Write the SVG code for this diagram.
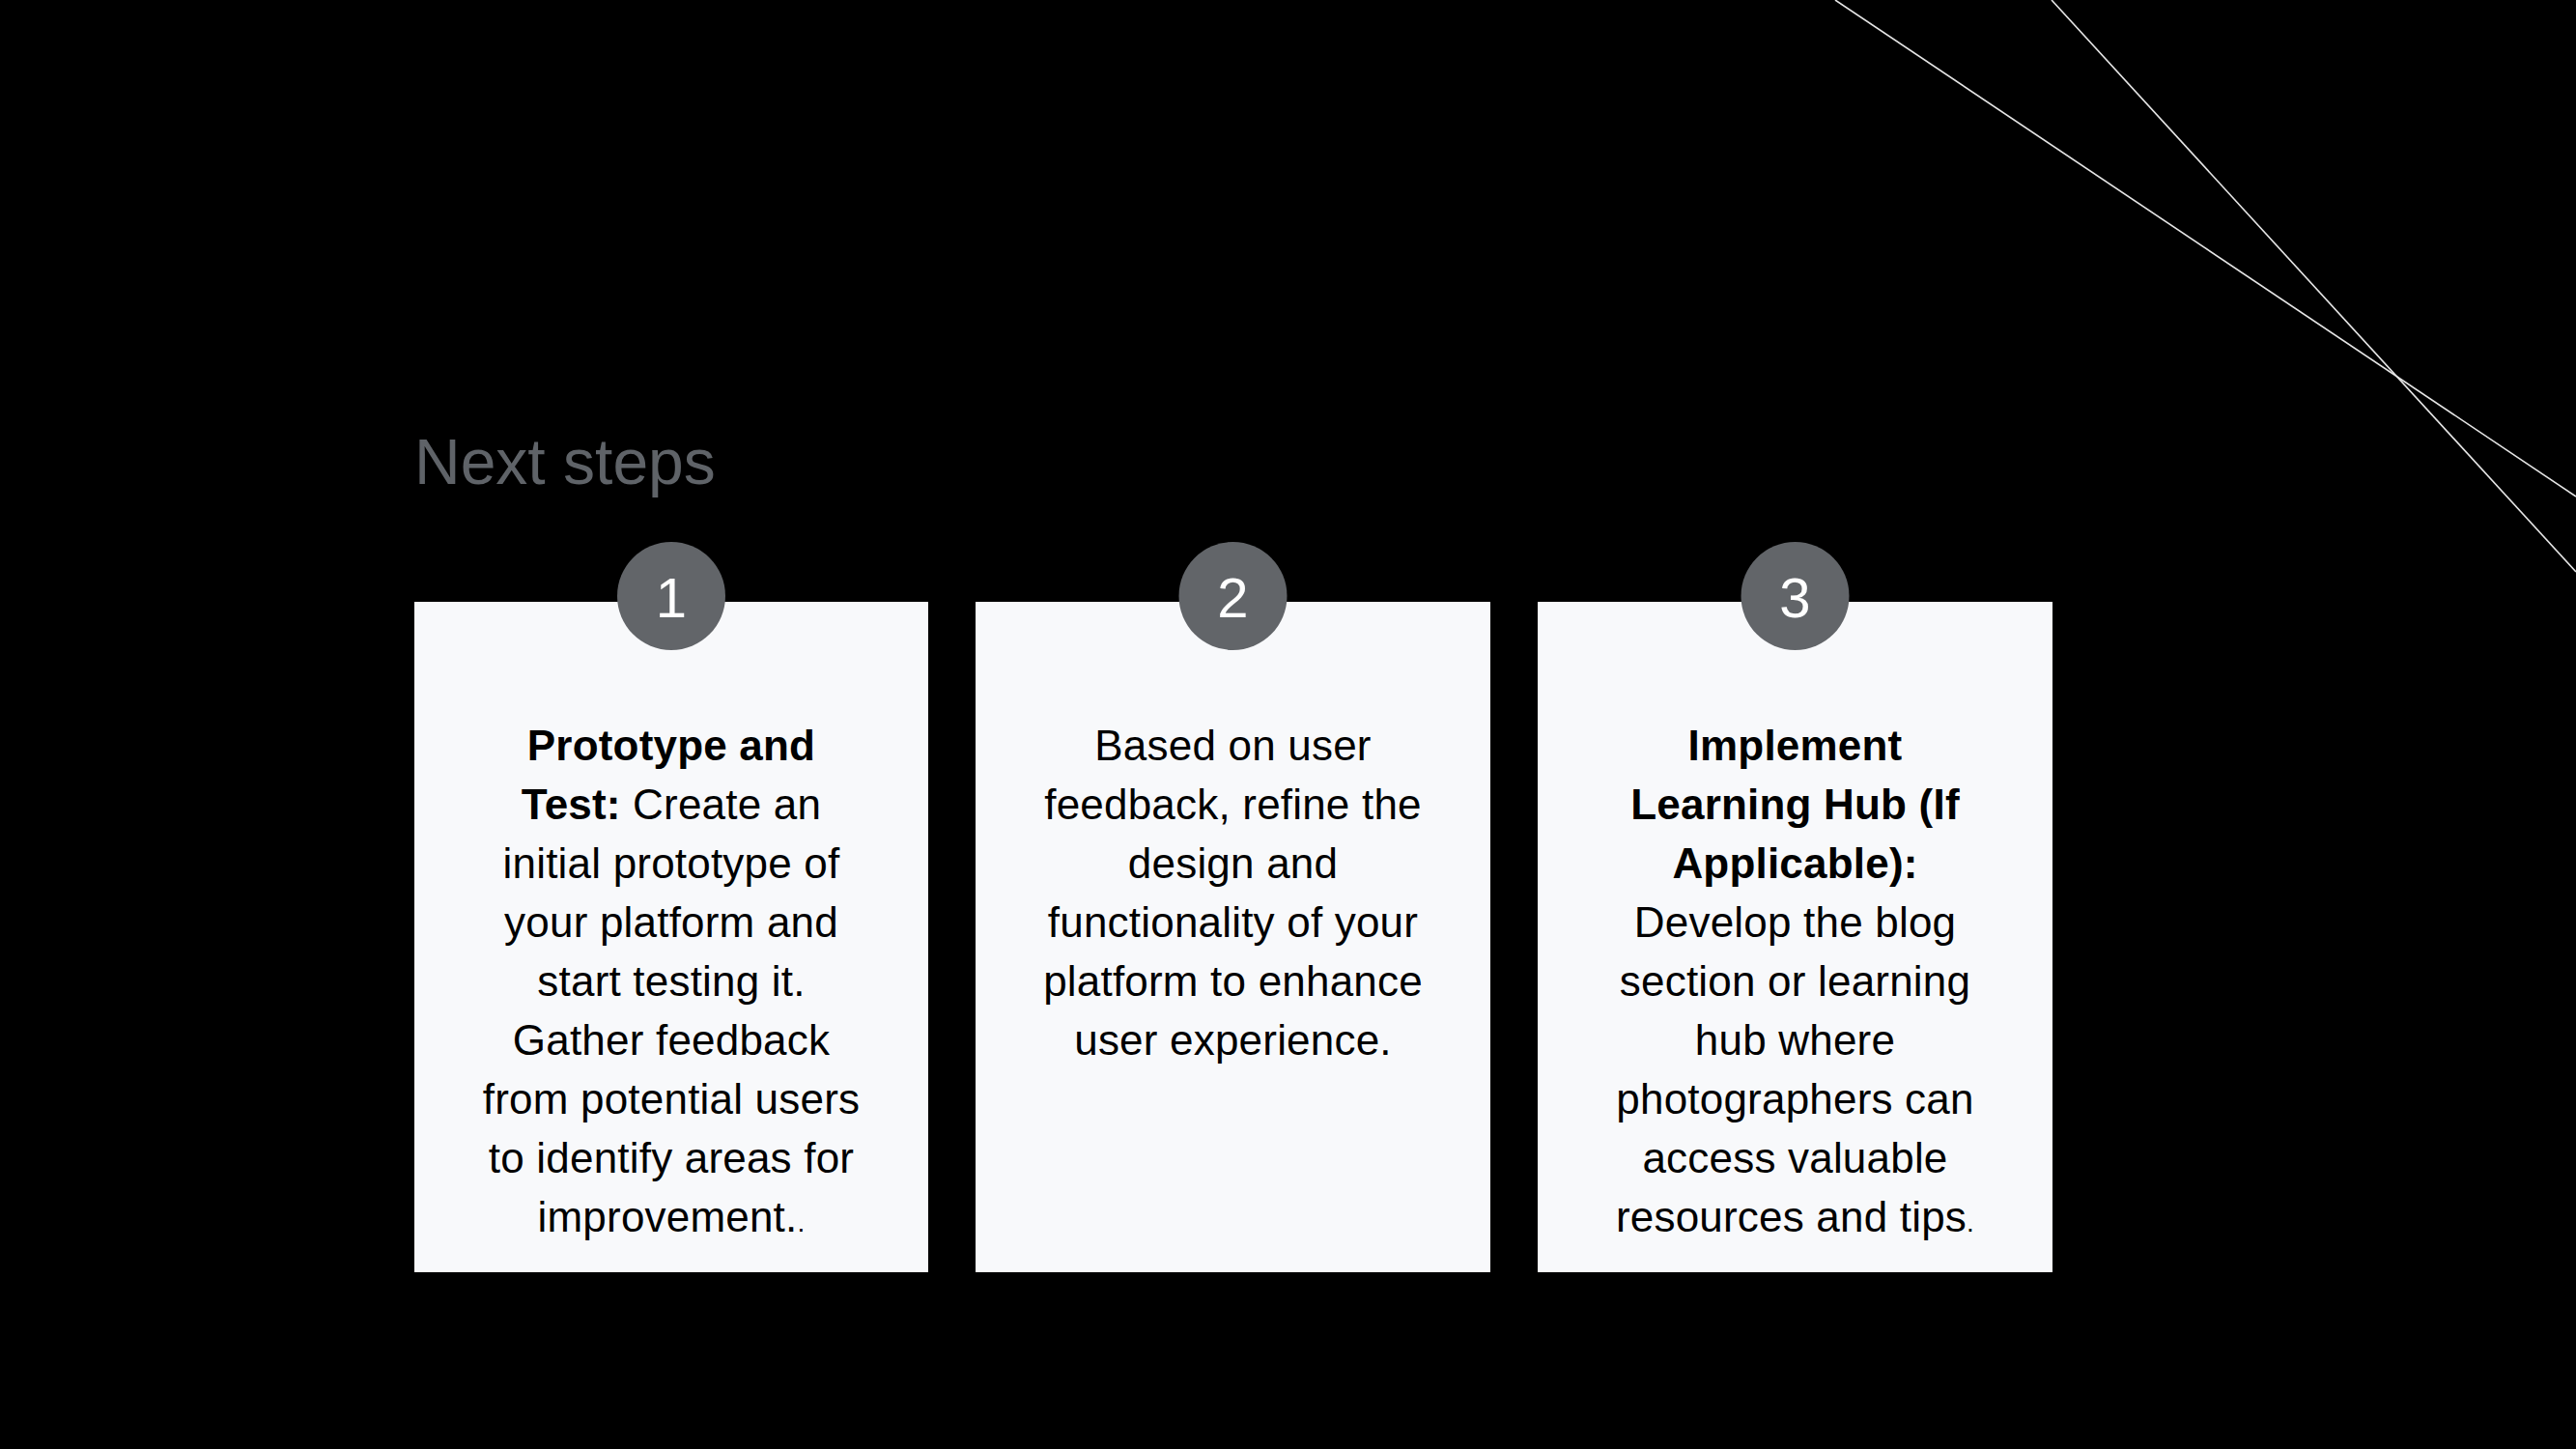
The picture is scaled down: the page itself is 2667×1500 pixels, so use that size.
<svg xmlns="http://www.w3.org/2000/svg" width="2667" height="1500" viewBox="0 0 2667 1500">
<style>
.bg{fill:#000000}
.card{fill:#f8f9fb}
.badge{fill:#626569}
.num{font-family:"Liberation Sans",Arial,sans-serif;font-size:58px;fill:#ffffff;text-anchor:middle}
.body{font-family:"Liberation Sans",Arial,sans-serif;font-size:44px;fill:#000000;text-anchor:middle;letter-spacing:0.2px}
.b{font-weight:bold}
.dot{font-size:28px}
.title{font-family:"Liberation Sans",Arial,sans-serif;font-size:66px;fill:#5f6368}
.deco{stroke:#e6e6e6;stroke-width:1.6;fill:none}
</style>
<rect class="bg" x="0" y="0" width="2667" height="1500"/>
<g id="decoration">
<line class="deco" x1="1900" y1="0" x2="2667" y2="514"/>
<line class="deco" x1="2124" y1="0" x2="2667" y2="592"/>
</g>
<g id="title">
<text class="title" x="429" y="501">Next steps</text>
</g>
<g id="connectors"></g>
<g id="step1">
<rect class="card" x="429" y="623" width="532" height="694"/>
<circle class="badge" cx="695" cy="617" r="56"/>
<text class="num" x="695" y="639">1</text>
<text class="body b" x="695" y="787">Prototype and</text>
<text class="body" x="695" y="848"><tspan class="b">Test:</tspan> Create an</text>
<text class="body" x="695" y="909">initial prototype of</text>
<text class="body" x="695" y="970">your platform and</text>
<text class="body" x="695" y="1031">start testing it.</text>
<text class="body" x="695" y="1092">Gather feedback</text>
<text class="body" x="695" y="1153">from potential users</text>
<text class="body" x="695" y="1214">to identify areas for</text>
<text class="body" x="695" y="1275">improvement.<tspan class="dot">.</tspan></text>
</g>
<g id="step2">
<rect class="card" x="1010" y="623" width="533" height="694"/>
<circle class="badge" cx="1276.5" cy="617" r="56"/>
<text class="num" x="1276.5" y="639">2</text>
<text class="body" x="1276.5" y="787">Based on user</text>
<text class="body" x="1276.5" y="848">feedback, refine the</text>
<text class="body" x="1276.5" y="909">design and</text>
<text class="body" x="1276.5" y="970">functionality of your</text>
<text class="body" x="1276.5" y="1031">platform to enhance</text>
<text class="body" x="1276.5" y="1092">user experience.</text>
</g>
<g id="step3">
<rect class="card" x="1592" y="623" width="533" height="694"/>
<circle class="badge" cx="1858.5" cy="617" r="56"/>
<text class="num" x="1858.5" y="639">3</text>
<text class="body b" x="1858.5" y="787">Implement</text>
<text class="body b" x="1858.5" y="848">Learning Hub (If</text>
<text class="body b" x="1858.5" y="909">Applicable):</text>
<text class="body" x="1858.5" y="970">Develop the blog</text>
<text class="body" x="1858.5" y="1031">section or learning</text>
<text class="body" x="1858.5" y="1092">hub where</text>
<text class="body" x="1858.5" y="1153">photographers can</text>
<text class="body" x="1858.5" y="1214">access valuable</text>
<text class="body" x="1858.5" y="1275">resources and tips<tspan class="dot">.</tspan></text>
</g>
</svg>
